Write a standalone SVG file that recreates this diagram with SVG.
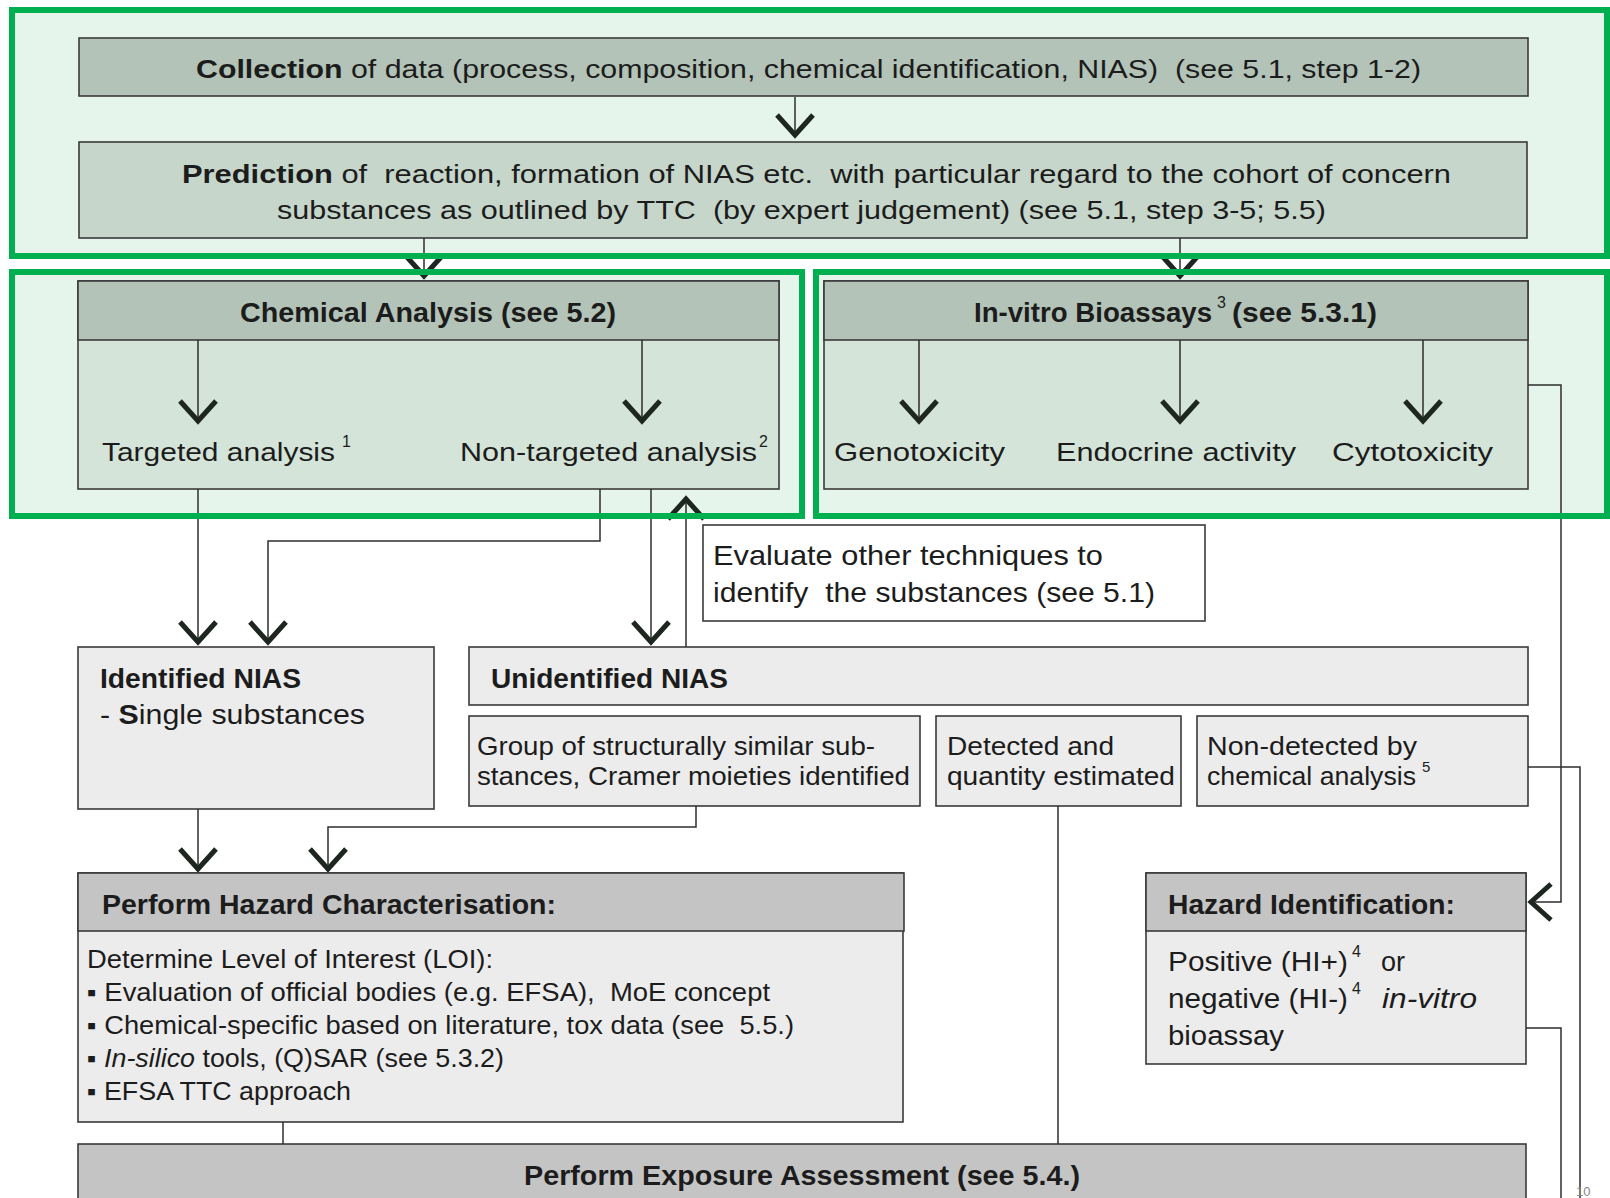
<svg xmlns="http://www.w3.org/2000/svg" width="1610" height="1198" viewBox="0 0 1610 1198">
<defs>
<style>
.t{font-family:"Liberation Sans",Arial,sans-serif;fill:#1c1c1c}
.b{font-weight:bold}
.i{font-style:italic}
.box{stroke:#3a3a3a;stroke-width:1.6}
.cn{fill:none;stroke:#2e2e2e;stroke-width:1.5}
.gf{fill:#e5f5eb}
.go{fill:none;stroke:#00b050;stroke-width:6}
.hg{fill:#b3c3b7}
.bg{fill:#d4e4d8}
.hy{fill:#c4c4c4}
.by{fill:#ececec}
</style>
<marker id="ch" markerUnits="userSpaceOnUse" markerWidth="40" markerHeight="40" viewBox="0 0 40 40" refX="25" refY="20" orient="auto" overflow="visible"><path d="M3,2 L23,20 L3,38" fill="none" stroke="#1e2620" stroke-width="5"/></marker>
</defs>
<rect x="0" y="0" width="1610" height="1198" fill="#ffffff"/>
<g id="containers-bg">
<rect class="gf" x="12" y="10" width="1595" height="246"/>
<rect class="gf" x="12" y="272" width="790" height="244"/>
<rect class="gf" x="816" y="272" width="791" height="244"/>
</g>
<g id="collection">
<rect class="box" x="79" y="38" width="1449" height="58" fill="#b3c3b7"/>
<text class="t" x="196" y="78" font-size="26" textLength="1225" lengthAdjust="spacingAndGlyphs" xml:space="preserve"><tspan class="b">Collection</tspan> of data (process, composition, chemical identification, NIAS)  (see 5.1, step 1-2)</text>
</g>
<g id="prediction">
<rect class="box" x="79" y="142" width="1448" height="96" fill="#c6d6ca"/>
<text class="t" x="182" y="183" font-size="26" textLength="1269" lengthAdjust="spacingAndGlyphs" xml:space="preserve"><tspan class="b">Prediction</tspan> of  reaction, formation of NIAS etc.  with particular regard to the cohort of concern</text>
<text class="t" x="277" y="219" font-size="26" textLength="1049" lengthAdjust="spacingAndGlyphs" xml:space="preserve">substances as outlined by TTC  (by expert judgement) (see 5.1, step 3-5; 5.5)</text>
</g>
<g id="chemical-analysis">
<rect class="box bg" x="78" y="281" width="701" height="208"/>
<rect class="box hg" x="78" y="281" width="701" height="59"/>
<text class="t b" x="240" y="322" font-size="27" textLength="376" lengthAdjust="spacingAndGlyphs">Chemical Analysis (see 5.2)</text>
<text class="t" x="102" y="461" font-size="26" textLength="233" lengthAdjust="spacingAndGlyphs">Targeted analysis</text>
<text class="t" x="342" y="447" font-size="16">1</text>
<text class="t" x="460" y="461" font-size="26" textLength="297" lengthAdjust="spacingAndGlyphs">Non-targeted analysis</text>
<text class="t" x="759" y="447" font-size="16">2</text>
</g>
<g id="invitro-bioassays">
<rect class="box bg" x="824" y="281" width="704" height="208"/>
<rect class="box hg" x="824" y="281" width="704" height="59"/>
<text class="t b" x="974" y="322" font-size="27" textLength="238" lengthAdjust="spacingAndGlyphs">In-vitro Bioassays</text>
<text class="t" x="1217" y="308" font-size="16">3</text>
<text class="t b" x="1232" y="322" font-size="27" textLength="145" lengthAdjust="spacingAndGlyphs">(see 5.3.1)</text>
<text class="t" x="834" y="461" font-size="26" textLength="171" lengthAdjust="spacingAndGlyphs">Genotoxicity</text>
<text class="t" x="1056" y="461" font-size="26" textLength="240" lengthAdjust="spacingAndGlyphs">Endocrine activity</text>
<text class="t" x="1332" y="461" font-size="26" textLength="161" lengthAdjust="spacingAndGlyphs">Cytotoxicity</text>
</g>
<g id="evaluate">
<rect class="box" x="703" y="525" width="502" height="96" fill="#ffffff"/>
<text class="t" x="713" y="565" font-size="28" textLength="390" lengthAdjust="spacingAndGlyphs">Evaluate other techniques to</text>
<text class="t" x="713" y="602" font-size="28" textLength="442" lengthAdjust="spacingAndGlyphs" xml:space="preserve">identify  the substances (see 5.1)</text>
</g>
<g id="identified-nias">
<rect class="box by" x="78" y="647" width="356" height="162"/>
<text class="t b" x="100" y="688" font-size="28" textLength="201" lengthAdjust="spacingAndGlyphs">Identified NIAS</text>
<text class="t" x="100" y="724" font-size="28" textLength="265" lengthAdjust="spacingAndGlyphs" xml:space="preserve">- <tspan class="b">S</tspan>ingle substances</text>
</g>
<g id="unidentified-nias">
<rect class="box by" x="469" y="647" width="1059" height="58"/>
<text class="t b" x="491" y="688" font-size="28" textLength="237" lengthAdjust="spacingAndGlyphs">Unidentified NIAS</text>
</g>
<g id="group-similar">
<rect class="box by" x="469" y="716" width="451" height="90"/>
<text class="t" x="477" y="755" font-size="25" textLength="398" lengthAdjust="spacingAndGlyphs">Group of structurally similar sub-</text>
<text class="t" x="477" y="785" font-size="25" textLength="433" lengthAdjust="spacingAndGlyphs">stances, Cramer moieties identified</text>
</g>
<g id="detected">
<rect class="box by" x="936" y="716" width="245" height="90"/>
<text class="t" x="947" y="755" font-size="25" textLength="167" lengthAdjust="spacingAndGlyphs">Detected and</text>
<text class="t" x="947" y="785" font-size="25" textLength="228" lengthAdjust="spacingAndGlyphs">quantity estimated</text>
</g>
<g id="non-detected">
<rect class="box by" x="1197" y="716" width="331" height="90"/>
<text class="t" x="1207" y="755" font-size="25" textLength="210" lengthAdjust="spacingAndGlyphs">Non-detected by</text>
<text class="t" x="1207" y="785" font-size="25" textLength="209" lengthAdjust="spacingAndGlyphs">chemical analysis</text>
<text class="t" x="1422" y="772" font-size="15">5</text>
</g>
<g id="hazard-characterisation">
<rect class="box by" x="78" y="873" width="825" height="249"/>
<rect class="box hy" x="78" y="873" width="826" height="58"/>
<text class="t b" x="102" y="914" font-size="27" textLength="454" lengthAdjust="spacingAndGlyphs">Perform Hazard Characterisation:</text>
<text class="t" x="87" y="968" font-size="25" textLength="406" lengthAdjust="spacingAndGlyphs">Determine Level of Interest (LOI):</text>
<text class="t" x="87" y="1001" font-size="25" textLength="683" lengthAdjust="spacingAndGlyphs" xml:space="preserve">▪ Evaluation of official bodies (e.g. EFSA),  MoE concept</text>
<text class="t" x="87" y="1034" font-size="25" textLength="707" lengthAdjust="spacingAndGlyphs" xml:space="preserve">▪ Chemical-specific based on literature, tox data (see  5.5.)</text>
<text class="t" x="87" y="1067" font-size="25" textLength="417" lengthAdjust="spacingAndGlyphs">▪ <tspan class="i">In-silico</tspan> tools, (Q)SAR (see 5.3.2)</text>
<text class="t" x="87" y="1100" font-size="25" textLength="264" lengthAdjust="spacingAndGlyphs">▪ EFSA TTC approach</text>
</g>
<g id="exposure-assessment">
<rect class="box hy" x="78" y="1144" width="1448" height="80"/>
<text class="t b" x="524" y="1185" font-size="27" textLength="556" lengthAdjust="spacingAndGlyphs">Perform Exposure Assessment (see 5.4.)</text>
</g>
<g id="hazard-identification">
<rect class="box by" x="1146" y="873" width="380" height="191"/>
<rect class="box hy" x="1146" y="873" width="380" height="58"/>
<text class="t b" x="1168" y="914" font-size="27" textLength="287" lengthAdjust="spacingAndGlyphs">Hazard Identification:</text>
<text class="t" x="1168" y="971" font-size="27" textLength="180" lengthAdjust="spacingAndGlyphs">Positive (HI+)</text>
<text class="t" x="1352" y="957" font-size="16">4</text>
<text class="t" x="1381" y="971" font-size="27">or</text>
<text class="t" x="1168" y="1008" font-size="27" textLength="180" lengthAdjust="spacingAndGlyphs">negative (HI-)</text>
<text class="t" x="1352" y="994" font-size="16">4</text>
<text class="t i" x="1382" y="1008" font-size="27" textLength="95" lengthAdjust="spacingAndGlyphs">in-vitro</text>
<text class="t" x="1168" y="1045" font-size="27" textLength="116" lengthAdjust="spacingAndGlyphs">bioassay</text>
</g>
<g id="connectors">
<path class="cn" d="M795,97 V137" marker-end="url(#ch)"/>
<path class="cn" d="M424,238 V278" marker-end="url(#ch)"/>
<path class="cn" d="M1180,238 V278" marker-end="url(#ch)"/>
<path class="cn" d="M198,340 V423" marker-end="url(#ch)"/>
<path class="cn" d="M642,340 V423" marker-end="url(#ch)"/>
<path class="cn" d="M919,340 V423" marker-end="url(#ch)"/>
<path class="cn" d="M1180,340 V423" marker-end="url(#ch)"/>
<path class="cn" d="M1423,340 V423" marker-end="url(#ch)"/>
<path class="cn" d="M1528,385 H1561 V902 H1529" marker-end="url(#ch)"/>
<path class="cn" d="M198,489 V644" marker-end="url(#ch)"/>
<path class="cn" d="M600,489 V541 H268 V644" marker-end="url(#ch)"/>
<path class="cn" d="M651,489 V644" marker-end="url(#ch)"/>
<path class="cn" d="M686,647 V497" marker-end="url(#ch)"/>
<path class="cn" d="M1528,767 H1580 V1198"/>
<path class="cn" d="M198,809 V871" marker-end="url(#ch)"/>
<path class="cn" d="M696,806 V827 H328 V871" marker-end="url(#ch)"/>
<path class="cn" d="M1058,806 V1144"/>
<path class="cn" d="M283,1122 V1144"/>
<path class="cn" d="M1526,1028 H1561 V1198"/>
</g>
<g id="containers">
<rect class="go" x="12" y="10" width="1595" height="246"/>
<rect class="go" x="12" y="272" width="790" height="244"/>
<rect class="go" x="816" y="272" width="791" height="244"/>
</g>
<text class="t" x="1576" y="1196" font-size="13" style="fill:#888888">10</text>
</svg>
